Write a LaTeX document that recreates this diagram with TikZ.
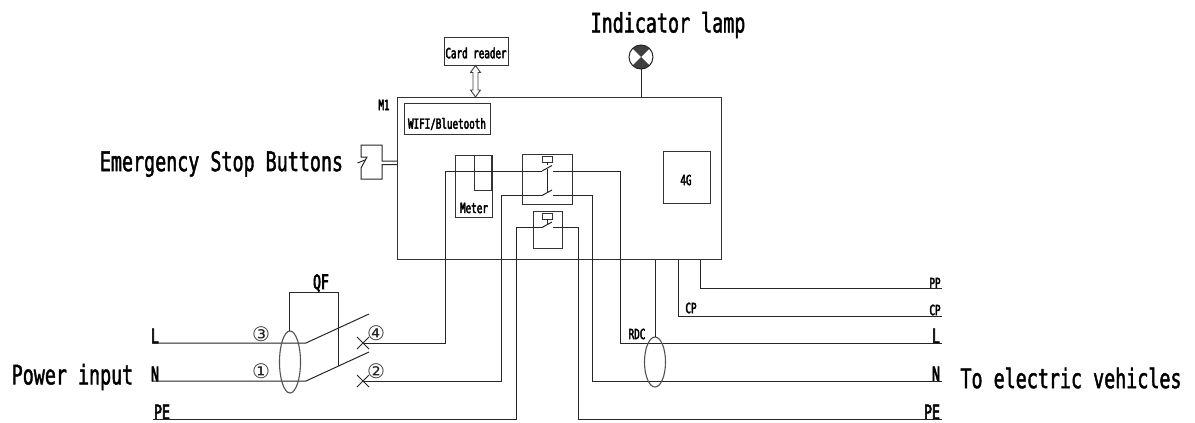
\documentclass[tikz,border=0pt]{standalone}
\usepackage{fontspec}
\usetikzlibrary{arrows.meta,calc}
\newfontfamily\biglabelfont[FakeStretch=0.68,FakeBold=1.5]{DejaVu Sans Mono}
\newfontfamily\smalllabelfont[FakeStretch=0.66,FakeBold=3]{DejaVu Sans Mono}
\newfontfamily\circfont{DejaVu Sans}
\tikzset{
  x=1pt,y=-1pt,
  wire/.style={draw=black!85,line width=1pt,line join=miter},
  box/.style={draw=black!80,line width=1pt,inner sep=0pt,fill=none},
  ring/.style={draw=black!68,line width=1.1pt,inner sep=0pt,fill=none},
  biglabel/.style={font=\biglabelfont\fontsize{27}{27}\selectfont,text=black,inner sep=0pt,anchor=center},
  smalllabel/.style={font=\smalllabelfont\fontsize{14}{14}\selectfont,text=black,inner sep=0pt,anchor=center},
  taglabel/.style={font=\smalllabelfont\fontsize{20}{20}\selectfont,text=black,inner sep=0pt,anchor=center},
  circnum/.style={font=\circfont\fontsize{20}{20}\selectfont,text=black!85,inner sep=0pt,anchor=center},
}
\newcommand{\boxat}[5]{\coordinate (#1-a) at (#2,#3); \coordinate (#1-b) at (#4,#5); \draw[box] (#1-a) rectangle (#1-b);}
\begin{document}
\begin{tikzpicture}
\useasboundingbox (0,0) rectangle (1195,423);
\fill[white] (0,0) rectangle (1195,423);

% boxes
\boxat{main}{397.5}{97}{721}{259.5}
\boxat{card}{444}{37.5}{508}{65}
\boxat{wifi}{404}{103.5}{490}{134}
\boxat{fourg}{663}{151}{710}{203}
\boxat{meter}{455}{155}{492}{217}
\boxat{meterin}{474}{155.5}{491}{190}
\boxat{relayA}{522}{154}{572}{204}
\boxat{relayAc}{542}{156}{552}{162}
\boxat{relayB}{533}{211}{562}{248}
\boxat{relayBc}{542}{213}{552}{219}

% labels in boxes
\node[smalllabel] (cardt) at (476,53) {Card reader};
\node[smalllabel] (wifit) at (447,124) {WIFI/Bluetooth};
\node[smalllabel] (fourgt) at (686,180) {4G};
\node[smalllabel] (metert) at (474,208) {Meter};
\node[smalllabel] (m1t) at (384,105) {M1};
\node[smalllabel] (cpa) at (691,308) {CP};
\node[smalllabel] (rdct) at (637,334) {RDC};
\node[smalllabel] (ppt) at (935,283) {PP};
\node[smalllabel] (cpb) at (935,310) {CP};

% large labels
\node[biglabel] (lamp-t) at (668,25) {Indicator lamp};
\node[biglabel] (stop-t) at (221.5,164) {Emergency Stop Buttons};
\node[biglabel] (pow-t) at (72.5,377) {Power input};
\node[biglabel] (ev-t) at (1071,378) {To electric vehicles};

% tags
\node[taglabel] (lL) at (155,336) {L};
\node[taglabel] (lN) at (155,374) {N};
\node[taglabel] (lPE) at (162,412) {PE};
\node[taglabel] (rL) at (936,336) {L};
\node[taglabel] (rN) at (936,374) {N};
\node[taglabel] (rPE) at (932,412) {PE};
\node[taglabel] (qf) at (321,283) {QF};

% circled numbers
\node[circnum] (c3) at (261,334) {③};
\node[circnum] (c1) at (261,371) {①};
\node[circnum] (c4) at (376,333) {④};
\node[circnum] (c2) at (376,371) {②};

% card reader arrow
\coordinate (arrA) at (475.5,65.5);
\coordinate (arrB) at (475.5,97);
\draw[draw=black!75,line width=0.9pt,fill=white]
  ($(arrA)$) -- ++(5,7) -- ++(-2.5,0) -- ($(arrB)+(2.5,-7)$) -- ++(2.5,0) -- (arrB)
  -- ++(-5,-7) -- ++(2.5,0) -- ($(arrA)+(-2.5,7)$) -- ++(-2.5,0) -- cycle;

% lamp
\coordinate (lampc) at (641,57);
\coordinate (lampb) at (641,97);
\fill[black!75] (lampc) -- ++(-135:12) arc (-135:-45:12) -- cycle;
\fill[black!75] (lampc) -- ++(45:12) arc (45:135:12) -- cycle;
\draw[wire] (lampc) circle (12);
\draw[wire] (lampc)++(0,12) -- (lampb);

% emergency stop
\coordinate (s1) at (397.5,161);
\coordinate (s2) at (382,161);
\coordinate (s3) at (382,145);
\coordinate (s4) at (361,145);
\coordinate (s5) at (361,157);
\coordinate (s6) at (367,157);
\coordinate (s7) at (361,168);
\coordinate (s8) at (361,179);
\coordinate (s9) at (382,179);
\coordinate (s10) at (382,164.5);
\coordinate (s11) at (397.5,164.5);
\draw[wire] (s1) -- (s2) -- (s3) -- (s4) -- (s5) -- (s6) -- (s7) -- (s8) -- (s9) -- (s10) -- (s11);
\coordinate (t1) at (357.5,163);
\coordinate (t2) at (365,160);
\draw[wire] (t1) -- (t2);

% contactors
\coordinate (ka) at (542,171);
\coordinate (kb) at (552,165.5);
\coordinate (kc) at (553,171);
\coordinate (kd) at (542,195.5);
\coordinate (ke) at (552,190);
\coordinate (kf) at (553,195.5);
\coordinate (kg) at (542,227.5);
\coordinate (kh) at (552,222);
\coordinate (ki) at (553,227.5);
\coordinate (lk1) at (547,168.5);
\coordinate (lk2) at (547,192.5);
\coordinate (lk3) at (547,162);
\coordinate (lk4) at (547,165);
\coordinate (lk5) at (547,219);
\coordinate (lk6) at (547,224.5);
\draw[wire] (ka) -- (kb) (kd) -- (ke) (kg) -- (kh);
\draw[wire] (lk1) -- (lk2) (lk3) -- (lk4) (lk5) -- (lk6);

% breaker
\coordinate (bL0) at (153,343);
\coordinate (bL1) at (306,343);
\coordinate (bL2) at (369,314);
\coordinate (bN0) at (153,381);
\coordinate (bN1) at (306,381);
\coordinate (bN2) at (369,352);
\coordinate (xL) at (363,343);
\coordinate (xN) at (363,381);
\coordinate (wL1) at (445.5,343);
\coordinate (wL2) at (445.5,171);
\coordinate (wN1) at (501,381);
\coordinate (wN2) at (501,195.5);
\coordinate (pe0) at (153,419);
\coordinate (pe1) at (516,419);
\coordinate (pe2) at (516,227.5);
\draw[wire] (bL0) -- (bL1) -- (bL2);
\draw[wire] (bN0) -- (bN1) -- (bN2);
\draw[wire] ($(xL)+(-6,-6)$) -- ($(xL)+(6,6)$) ($(xL)+(-6,6)$) -- ($(xL)+(6,-6)$);
\draw[wire] ($(xN)+(-6,-6)$) -- ($(xN)+(6,6)$) ($(xN)+(-6,6)$) -- ($(xN)+(6,-6)$);
\draw[wire] (xL) -- (wL1) -- (wL2) -- (ka);
\draw[wire] (xN) -- (wN1) -- (wN2) -- (kd);
\draw[wire] (pe0) -- (pe1) -- (pe2) -- (kg);

% breaker leakage ring and bracket
\coordinate (ringA) at (290,362);
\draw[ring] (ringA) ellipse (10.5 and 31);
\coordinate (q1) at (289,331);
\coordinate (q2) at (289,292);
\coordinate (q3) at (338,292);
\coordinate (q4) at (338,366);
\draw[wire] (q1) -- (q2) -- (q3) -- (q4);

% outgoing wires
\coordinate (oL1) at (620,171);
\coordinate (oL2) at (620,343);
\coordinate (oL3) at (941.5,343);
\coordinate (oN1) at (592,195.5);
\coordinate (oN2) at (592,381);
\coordinate (oN3) at (941.5,381);
\coordinate (oP1) at (578,227.5);
\coordinate (oP2) at (578,419);
\coordinate (oP3) at (941.5,419);
\draw[wire] (kc) -- (oL1) -- (oL2) -- (oL3);
\draw[wire] (kf) -- (oN1) -- (oN2) -- (oN3);
\draw[wire] (ki) -- (oP1) -- (oP2) -- (oP3);

% rdc
\coordinate (ringB) at (655,362);
\coordinate (r0) at (655,259.5);
\coordinate (r1) at (655,337);
\draw[ring] (ringB) ellipse (10.5 and 25);
\draw[wire] (r0) -- (r1);

% cp / pp
\coordinate (cp0) at (678,259.5);
\coordinate (cp1) at (678,316);
\coordinate (cp2) at (941.5,316);
\coordinate (pp0) at (700,259.5);
\coordinate (pp1) at (700,288);
\coordinate (pp2) at (941.5,288);
\draw[wire] (cp0) -- (cp1) -- (cp2);
\draw[wire] (pp0) -- (pp1) -- (pp2);
\end{tikzpicture}
\end{document}
